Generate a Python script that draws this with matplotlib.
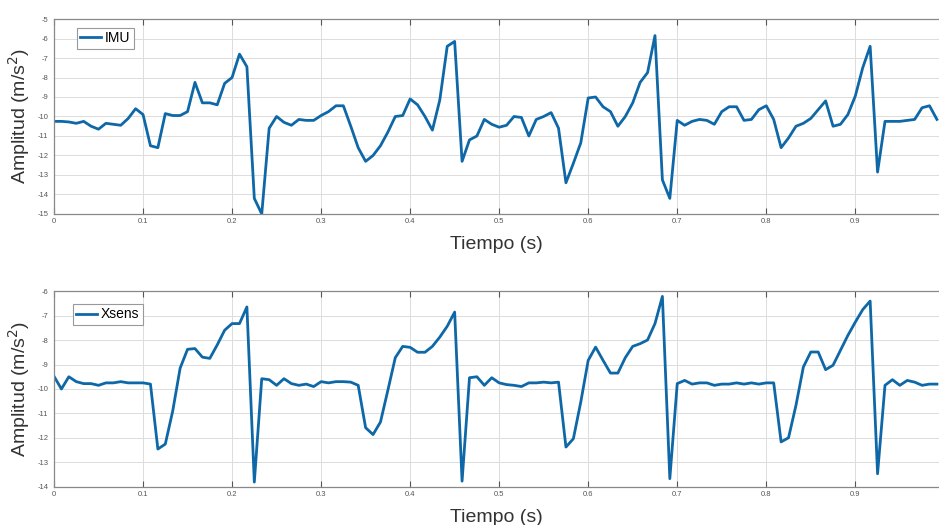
import numpy as np
import matplotlib
matplotlib.use("Agg")
import matplotlib.pyplot as plt

plt.rcParams["font.family"] = ["Liberation Sans", "DejaVu Sans"]
plt.rcParams["axes.unicode_minus"] = False

FS = 120  # Hz

imu = [
    -10.25, -10.25, -10.28, -10.35, -10.25, -10.5, -10.65, -10.35, -10.4, -10.45,
    -10.1, -9.6, -9.9, -11.5, -11.6, -9.85, -9.95, -9.95, -9.75, -8.25,
    -9.3, -9.3, -9.4, -8.3, -8.0, -6.8, -7.45, -14.2, -15.0, -10.6,
    -10.0, -10.3, -10.45, -10.15, -10.2, -10.2, -9.95, -9.75, -9.45, -9.45,
    -10.5, -11.6, -12.3, -12.0, -11.5, -10.8, -10.0, -9.95, -9.1, -9.4,
    -10.0, -10.7, -9.15, -6.4, -6.15, -12.3, -11.2, -11.0, -10.15, -10.4,
    -10.55, -10.45, -10.0, -10.05, -11.0, -10.15, -10.0, -9.8, -10.6, -13.4,
    -12.4, -11.35, -9.05, -9.0, -9.5, -9.75, -10.5, -10.0, -9.3, -8.25,
    -7.75, -5.85, -13.25, -14.2, -10.2, -10.45, -10.25, -10.15, -10.2, -10.4,
    -9.75, -9.5, -9.5, -10.2, -10.15, -9.65, -9.45, -10.15, -11.6, -11.1,
    -10.5, -10.35, -10.1, -9.65, -9.2, -10.5, -10.4, -9.9, -8.95, -7.5,
    -6.4, -12.85, -10.25, -10.25, -10.25, -10.2, -10.15, -9.55, -9.45, -10.15,
]

xsens = [
    -9.48, -10.0, -9.5, -9.7, -9.78, -9.78, -9.85, -9.75, -9.75, -9.7,
    -9.75, -9.75, -9.75, -9.8, -12.45, -12.25, -10.9, -9.15, -8.38, -8.35,
    -8.7, -8.75, -8.2, -7.6, -7.33, -7.33, -6.65, -13.8, -9.58, -9.62,
    -9.85, -9.58, -9.78, -9.85, -9.8, -9.9, -9.7, -9.75, -9.7, -9.7,
    -9.72, -9.85, -11.58, -11.86, -11.35, -10.05, -8.72, -8.26, -8.3, -8.5,
    -8.5, -8.26, -7.88, -7.44, -6.86, -13.76, -9.54, -9.5, -9.85, -9.54,
    -9.75, -9.82, -9.85, -9.9, -9.75, -9.75, -9.72, -9.75, -9.72, -12.37,
    -12.03, -10.53, -8.83, -8.29, -8.83, -9.35, -9.35, -8.72, -8.26, -8.15,
    -8.0, -7.33, -6.22, -13.66, -9.78, -9.65, -9.8, -9.75, -9.75, -9.85,
    -9.8, -9.8, -9.75, -9.8, -9.75, -9.8, -9.75, -9.75, -12.16, -11.99,
    -10.67, -9.1, -8.49, -8.49, -9.21, -9.03, -8.42, -7.81, -7.27, -6.76,
    -6.41, -13.46, -9.85, -9.62, -9.85, -9.65, -9.72, -9.85, -9.8, -9.8,
]

xticks = [0, 0.1, 0.2, 0.3, 0.4, 0.5, 0.6, 0.7, 0.8, 0.9]
xticklabels = ["0", "0.1", "0.2", "0.3", "0.4", "0.5", "0.6", "0.7", "0.8", "0.9"]

LINE = "#0e68a8"
t_imu = np.arange(len(imu)) / FS
t_xs = np.arange(len(xsens)) / FS

fig = plt.figure(figsize=(9.39, 5.25), dpi=100)
ax1 = fig.add_axes([0.0575, 0.5924, 0.9425, 0.3714])
ax2 = fig.add_axes([0.0575, 0.0724, 0.9425, 0.3733])


def style(ax, ylim, anchor):
    ax.set_xlim(0, 0.994)
    ax.set_ylim(*ylim)
    ax.set_xticks(xticks)
    ax.set_xticklabels(xticklabels)
    ax.set_yticks(np.arange(ylim[0], ylim[1] + 1))
    ax.grid(True, color="#dcdcdc", linewidth=0.7)
    ax.set_axisbelow(True)
    ax.tick_params(direction="in", length=4, width=0.8, color="#555555",
                   labelsize=5.5, labelcolor="#555555", top=True, right=False,
                   pad=3)
    ax.tick_params(axis="y", length=0, pad=4)
    for s in ax.spines.values():
        s.set_color("#888888")
        s.set_linewidth(0.9)
    ax.spines["right"].set_visible(False)
    ax.set_ylabel("Amplitud (m/s$^2$)", fontsize=14, color="#333333", labelpad=4)
    ax.set_xlabel("Tiempo (s)", fontsize=14, color="#333333", labelpad=8)
    leg = ax.legend(loc="upper left", fontsize=10, handlelength=1.5,
                    handletextpad=0.25, borderpad=0.25, borderaxespad=0,
                    fancybox=False, framealpha=1, bbox_to_anchor=anchor)
    leg.get_frame().set_edgecolor("#999999")
    leg.get_frame().set_linewidth(0.8)


ax1.plot(t_imu, imu, color=LINE, linewidth=2.0, label="IMU")
style(ax1, (-15, -5), (0.026, 0.955))

ax2.plot(t_xs, xsens, color=LINE, linewidth=2.0, label="Xsens")
style(ax2, (-14, -6), (0.0215, 0.934))

fig.savefig("out.png", dpi=100)
